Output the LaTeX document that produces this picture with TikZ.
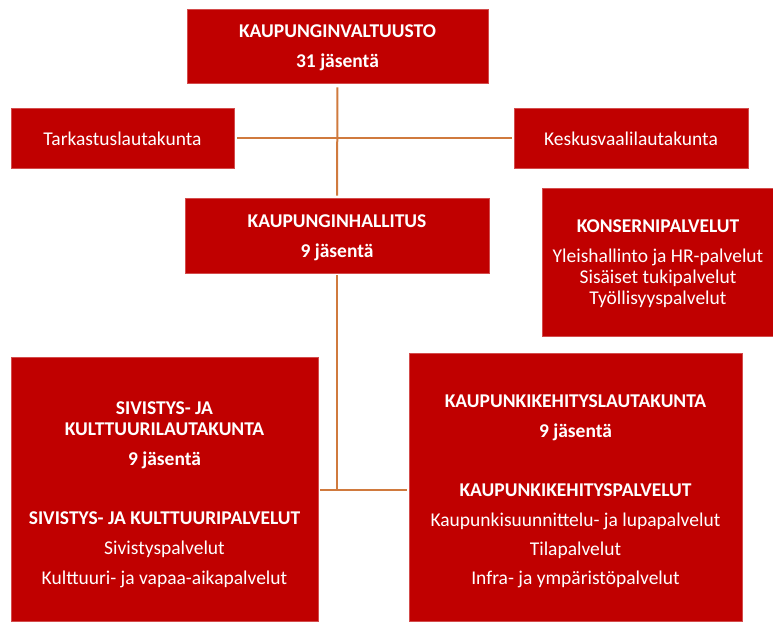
\documentclass[tikz,border=0pt]{standalone}
\usepackage{fontspec}
\setmainfont{Carlito}
\definecolor{boxred}{HTML}{C00000}
\definecolor{linkc}{HTML}{D07A3E}
\tikzset{
  orgbox/.style={fill=boxred, draw=boxred!70!white, line width=0.6pt, inner sep=0pt},
  orgtext/.style={text=white, align=center, inner sep=0pt, font=\fontsize{19.5}{21}\selectfont},
  link/.style={draw=linkc, line width=2pt},
}
\begin{document}
\begin{tikzpicture}[x=1pt,y=-1pt]
\useasboundingbox (0,0) rectangle (773,622);
\node[orgbox, minimum width=301, minimum height=74] (kv) at (337.5,46) {};
\node[orgtext] (kv-t) at ([yshift=-1.5pt]kv.center) {\textbf{KAUPUNGINVALTUUSTO}\\[9pt]\textbf{31 jäsentä}};
\node[orgbox, minimum width=223, minimum height=60] (tl) at (122.5,138) {};
\node[orgtext] (tl-t) at ([yshift=-1pt]tl.center) {Tarkastuslautakunta};
\node[orgbox, minimum width=234, minimum height=60] (kl) at (631,138) {};
\node[orgtext] (kl-t) at ([yshift=-1pt]kl.center) {Keskusvaalilautakunta};
\node[orgbox, minimum width=304, minimum height=75] (kh) at (337,235.5) {};
\node[orgtext] (kh-t) at ([yshift=-2pt]kh.center) {\textbf{KAUPUNGINHALLITUS}\\[9pt]\textbf{9 jäsentä}};
\node[orgbox, minimum width=232, minimum height=148] (kp) at (658,262) {};
\node[orgtext] (kp-t) at ([yshift=-2pt]kp.center) {\textbf{KONSERNIPALVELUT}\\[9pt]Yleishallinto ja HR-palvelut\\Sisäiset tukipalvelut\\Työllisyyspalvelut};
\node[orgbox, minimum width=307, minimum height=264] (sk) at (164.5,489) {};
\node[orgtext] (sk-t) at ([yshift=-6pt]sk.center) {\textbf{SIVISTYS- JA}\\\textbf{KULTTUURILAUTAKUNTA}\\[9pt]\textbf{9 jäsentä}\\[38pt]\textbf{SIVISTYS- JA KULTTUURIPALVELUT}\\[9pt]Sivistyspalvelut\\[9pt]Kulttuuri- ja vapaa-aikapalvelut};
\node[orgbox, minimum width=333, minimum height=268] (kk) at (575.5,487) {};
\node[orgtext] (kk-t) at ([yshift=-4.5pt]kk.center) {\textbf{KAUPUNKIKEHITYSLAUTAKUNTA}\\[9pt]\textbf{9 jäsentä}\\[38pt]\textbf{KAUPUNKIKEHITYSPALVELUT}\\[9pt]Kaupunkisuunnittelu- ja lupapalvelut\\[8pt]Tilapalvelut\\[8pt]Infra- ja ympäristöpalvelut};
\coordinate (j) at (337,490);
\draw[link, shorten <=4pt, shorten >=2pt] (kv.south) -- (kh.north);
\draw[link, shorten <=3pt, shorten >=2pt] (tl.east) -- (kl.west);
\draw[link, shorten <=2pt] (kh.south) -- (j);
\draw[link, shorten <=2pt, shorten >=2pt] (j -| sk.east) -- (j -| kk.west);
\end{tikzpicture}
\end{document}
